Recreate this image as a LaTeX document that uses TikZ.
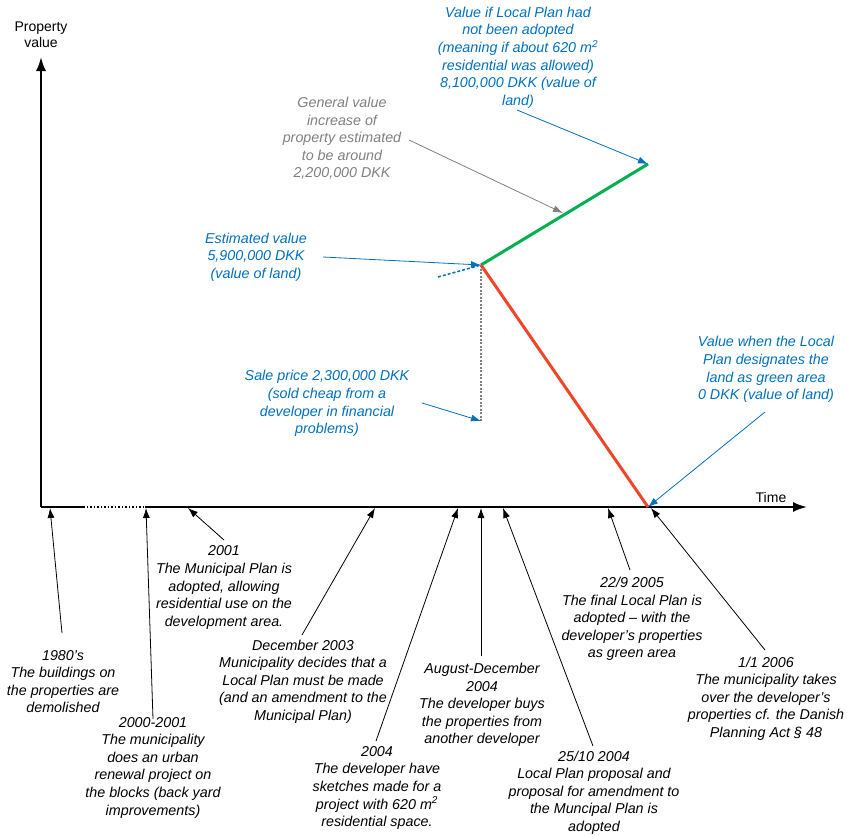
\documentclass[tikz,border=0pt]{standalone}
\usepackage{fontspec}
\setmainfont{Liberation Sans}
\usetikzlibrary{arrows.meta}
\definecolor{cblue}{RGB}{0,112,192}
\definecolor{cgreen}{RGB}{0,176,80}
\definecolor{cred}{RGB}{240,70,40}
\definecolor{cgray}{RGB}{128,128,128}
\begin{document}
\begin{tikzpicture}[x=1pt,y=-1pt,
  lbl/.style={font=\fontsize{14.3}{17.6}\selectfont\itshape, align=center, inner sep=0pt},
  axlbl/.style={font=\fontsize{14}{16}\selectfont, align=center, inner sep=0pt},
  axis/.style={line width=2pt, -{Latex[length=14pt,width=10pt]}},
  karr/.style={line width=0.8pt, -{Latex[length=10pt,width=7pt]}},
  barr/.style={karr, draw=cblue},
  garr/.style={karr, draw=cgray},
  valline/.style={line width=3pt}
]
\path[use as bounding box] (0,0) rectangle (847,836);

% axes
\coordinate (O) at (41,507);
\coordinate (Ytop) at (41,57);
\coordinate (Xend) at (807,507);
\coordinate (D1) at (83,507);
\coordinate (D2) at (145,507);
\draw[line width=2pt] (O) -- (D1);
\draw[line width=1.5pt, dotted] (D1) -- (D2);
\draw[axis] (D2) -- (Xend);
\draw[axis] (O) -- (Ytop);
\node[axlbl] (pv) at (41,35) {Property\\value};
\node[axlbl] (time) at (771,497) {Time};

% value lines
\coordinate (P) at (481,265);
\coordinate (G) at (648,164);
\coordinate (Z) at (648,507);
\coordinate (Pd) at (438,277);
\coordinate (S) at (481,421);
\draw[cblue, line width=1.5pt, dash pattern=on 3pt off 2pt] (Pd) -- (P);
\draw[cgray, line width=1.2pt, dash pattern=on 2pt off 1.5pt] (P) -- (S);
\draw[cgreen, valline] (P) -- (G);
\draw[cred, valline] (P) -- (Z);

% upper annotations
\node[lbl, text=cblue] (t1) at (518,57.5) {Value if Local Plan had\\not been adopted\\(meaning if about 620 m\textsuperscript{2}\\residential was allowed)\\8,100,000 DKK (value of\\land)};
\coordinate (t1s) at (517,110);
\draw[barr] (t1s) -- (G);

\node[lbl, text=cgray] (t2) at (342,138.5) {General value\\increase of\\property estimated\\to be around\\2,200,000 DKK};
\coordinate (t2s) at (409,140);
\coordinate (t2e) at (563,213);
\draw[garr] (t2s) -- (t2e);

\node[lbl, text=cblue] (t3) at (256,257) {Estimated value\\5,900,000 DKK\\(value of land)};
\coordinate (t3s) at (323,257);
\draw[barr] (t3s) -- (P);

\node[lbl, text=cblue] (t4) at (327,403.5) {Sale price 2,300,000 DKK\\(sold cheap from a\\developer in financial\\problems)};
\coordinate (t4s) at (422,403);
\draw[barr] (t4s) -- (S);

\node[lbl, text=cblue] (t5) at (766,369.5) {Value when the Local\\Plan designates the\\land as green area\\0 DKK (value of land)};
\coordinate (t5s) at (765,412);
\draw[barr] (t5s) -- (Z);

% timeline annotations
\node[lbl] (e1) at (63,681.5) {1980's\\The buildings on\\the properties are\\demolished};
\coordinate (e1s) at (62,633);
\coordinate (e1e) at (50,508);
\draw[karr] (e1s) -- (e1e);

\node[lbl] (e2) at (153,767.5) {2000-2001\\The municipality\\does an urban\\renewal project on\\the blocks (back yard\\improvements)};
\coordinate (e2s) at (153,719);
\coordinate (e2e) at (146,508);
\draw[karr] (e2s) -- (e2e);

\node[lbl] (e3) at (224,587.5) {2001\\The Municipal Plan is\\adopted, allowing\\residential use on the\\development area.};
\coordinate (e3s) at (224,540);
\coordinate (e3e) at (188,508);
\draw[karr] (e3s) -- (e3e);

\node[lbl] (e4) at (303,681.5) {December 2003\\Municipality decides that a\\Local Plan must be made\\(and an amendment to the\\Municipal Plan)};
\coordinate (e4s) at (302,635);
\coordinate (e4e) at (375,508);
\draw[karr] (e4s) -- (e4e);

\node[lbl] (e5) at (377,788) {2004\\The developer have\\sketches made for a\\project with 620 m\textsuperscript{2}\\residential space.};
\coordinate (e5s) at (376,741);
\coordinate (e5e) at (458,508);
\draw[karr] (e5s) -- (e5e);

\node[lbl] (e6) at (482,705) {August-December\\2004\\The developer buys\\the properties from\\another developer};
\coordinate (e6s) at (481,656);
\coordinate (e6e) at (481,508);
\draw[karr] (e6s) -- (e6e);

\node[lbl] (e7) at (594,792.5) {25/10 2004\\Local Plan proposal and\\proposal for amendment to\\the Muncipal Plan is\\adopted};
\coordinate (e7s) at (593,746);
\coordinate (e7e) at (503,508);
\draw[karr] (e7s) -- (e7e);

\node[lbl] (e8) at (632,619) {22/9 2005\\The final Local Plan is\\adopted – with the\\developer’s properties\\as green area};
\coordinate (e8s) at (630,570);
\coordinate (e8e) at (608,508);
\draw[karr] (e8s) -- (e8e);

\node[lbl] (e9) at (766,698.5) {1/1 2006\\The municipality takes\\over the developer’s\\properties cf. the Danish\\Planning Act § 48};
\coordinate (e9s) at (765,650);
\coordinate (e9e) at (651,508);
\draw[karr] (e9s) -- (e9e);
\end{tikzpicture}
\end{document}
